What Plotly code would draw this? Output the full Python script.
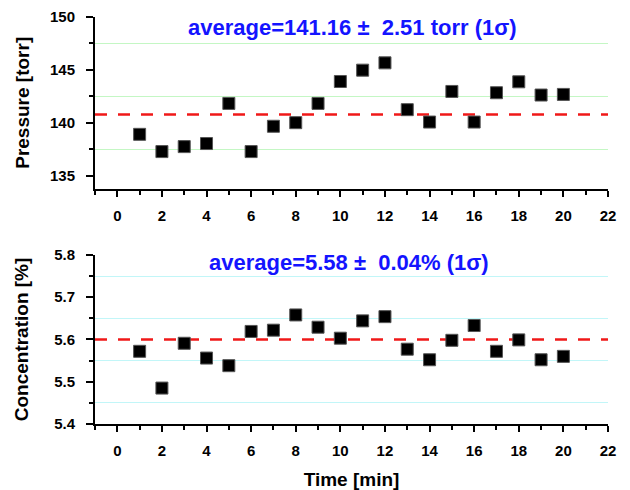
import plotly.graph_objects as go
from plotly.subplots import make_subplots

# ---- data ----
time_min = list(range(1, 21))
pressure_torr = [138.92, 137.29, 137.76, 138.05, 141.84, 137.29, 139.68, 140.02, 141.84, 143.91,
                 144.98, 145.67, 141.25, 140.08, 142.97, 140.08, 142.85, 143.88, 142.63, 142.69]
concentration_pct = [5.572, 5.485, 5.591, 5.556, 5.538, 5.619, 5.622, 5.658, 5.629, 5.603,
                     5.644, 5.654, 5.577, 5.552, 5.598, 5.633, 5.572, 5.599, 5.552, 5.560]
pressure_ref_line = 140.8
concentration_ref_line = 5.6
pressure_label = "average=141.16 \u00b1 \u00a02.51 torr (1\u03c3)"
concentration_label = "average=5.58 \u00b1 \u00a00.04% (1\u03c3)"
x_ticks = list(range(0, 23, 2))
x_minor_ticks = list(range(-1, 23, 2))
pressure_ticks = [135, 140, 145, 150]
pressure_minor = [137.5, 142.5, 147.5]
concentration_ticks = [5.4, 5.5, 5.6, 5.7, 5.8]
concentration_minor = [5.45, 5.55, 5.65, 5.75]

FONT = "Liberation Sans, Arial, sans-serif"

fig = make_subplots(rows=2, cols=1, shared_xaxes=False, vertical_spacing=0.16)

marker = dict(symbol="square", size=12, color="black", line=dict(color="#555", width=1))
fig.add_trace(go.Scatter(x=time_min, y=pressure_torr, mode="markers", marker=marker,
                         showlegend=False), row=1, col=1)
fig.add_trace(go.Scatter(x=time_min, y=concentration_pct, mode="markers", marker=marker,
                         showlegend=False), row=2, col=1)

for yref, val in (("y", pressure_ref_line), ("y2", concentration_ref_line)):
    fig.add_shape(type="line", xref=yref.replace("y", "x") + " domain", yref=yref,
                  x0=0, x1=1, y0=val, y1=val,
                  line=dict(color="#f01818", width=2.5, dash="12px,11px"), layer="below")

tickfont = dict(family=FONT, size=15, color="black", weight="bold")
common_x = dict(range=[-1, 22], tickmode="array", tickvals=x_ticks, ticks="outside", ticklen=6,
                tickwidth=2, tickcolor="black",
                showline=True, linecolor="black", linewidth=2, showgrid=False, zeroline=False,
                tickfont=tickfont, ticklabelstandoff=6, automargin=False,
                minor=dict(tickmode="array", tickvals=x_minor_ticks, ticks="outside", ticklen=4,
                           tickwidth=2, tickcolor="black", showgrid=False))
fig.update_xaxes(**common_x)
fig.update_xaxes(title=dict(text="Time [min]", font=dict(family=FONT, size=19, color="black",
                                                          weight="bold"), standoff=15), row=2, col=1)

common_y = dict(ticks="outside", ticklen=7, tickwidth=2, tickcolor="black", showline=True,
                linecolor="black", linewidth=2, showgrid=False, zeroline=False, tickfont=tickfont,
                ticklabelstandoff=8, automargin=False, tickmode="array")
fig.update_yaxes(**common_y)
fig.update_yaxes(range=[133.8, 150], tickvals=pressure_ticks,
                 minor=dict(tickmode="array", tickvals=pressure_minor, ticks="outside", ticklen=4,
                            tickwidth=2, tickcolor="black", showgrid=True, gridcolor="#c4f7c4",
                            gridwidth=1),
                 title=dict(text="Pressure [torr]", font=dict(family=FONT, size=19, color="black",
                                                               weight="bold"), standoff=15),
                 domain=[0.5785, 1.0], row=1, col=1)
fig.update_yaxes(range=[5.4, 5.8], tickvals=concentration_ticks, tickformat=".1f",
                 minor=dict(tickmode="array", tickvals=concentration_minor, ticks="outside",
                            ticklen=4, tickwidth=2, tickcolor="black", showgrid=True,
                            gridcolor="#c2f6f8", gridwidth=1),
                 title=dict(text="Concentration [%]", font=dict(family=FONT, size=19, color="black",
                                                                 weight="bold"), standoff=20),
                 domain=[0.0, 0.4154], row=2, col=1)

annfont = dict(family=FONT, size=22, color="#1414ff", weight="bold")
fig.add_annotation(text=pressure_label, xref="x domain", yref="y domain", x=0.502, y=0.94,
                   showarrow=False, font=annfont, xanchor="center", yanchor="middle")
fig.add_annotation(text=concentration_label, xref="x2 domain", yref="y2 domain", x=0.495, y=0.953,
                   showarrow=False, font=annfont, xanchor="center", yanchor="middle")

# the page's body adds an 8 px offset, so margins compensate for it
fig.update_layout(template="none", width=630, height=490,
                  margin=dict(l=87, r=30, t=8.7, b=73.7, autoexpand=False),
                  paper_bgcolor="white", plot_bgcolor="white", showlegend=False)

fig.write_html("out.html")
